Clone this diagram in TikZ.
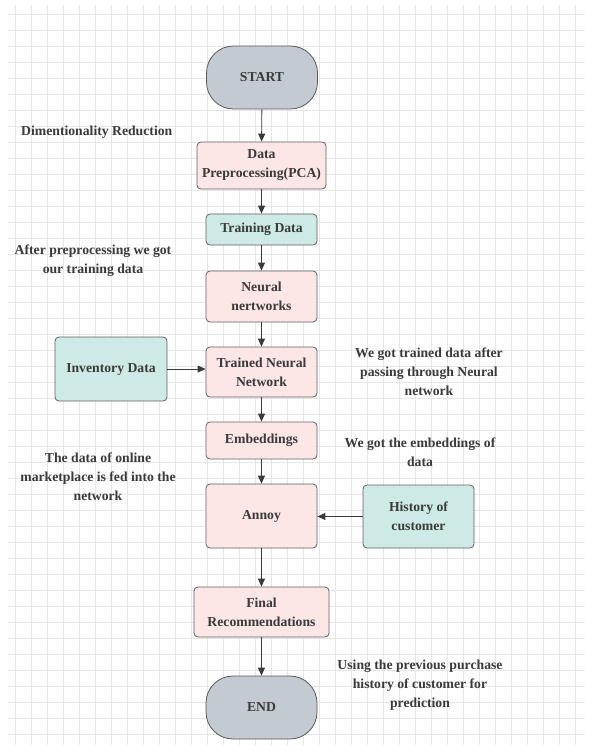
\documentclass[tikz,border=0pt]{standalone}
\usepackage{fontspec}
\setmainfont{Liberation Serif}
\usepackage{tikz}
\usetikzlibrary{arrows.meta}
\definecolor{boxpink}{HTML}{FCE6E6}
\definecolor{boxteal}{HTML}{CDEAE6}
\definecolor{boxgrey}{HTML}{C3CAD2}
\definecolor{inkgrey}{HTML}{3A3A3A}
\definecolor{gridgrey}{HTML}{E6E6E6}

\begin{document}
\begin{tikzpicture}[x=1pt, y=-1pt, font=\fontsize{13.7}{19}\selectfont\bfseries,
    every node/.style={text=inkgrey, align=center, inner sep=0pt},
    pinkbox/.style={draw=black!62, line width=0.8pt, fill=boxpink, rounded corners=4pt},
    tealbox/.style={draw=black!62, line width=0.8pt, fill=boxteal, rounded corners=4pt},
    termbox/.style={draw=black!65, line width=0.8pt, fill=boxgrey, rounded corners=27pt, minimum width=111pt, minimum height=63pt},
    flow/.style={draw=inkgrey, line width=0.9pt, -{Triangle[length=8pt,width=7pt]}}]
    % page and grid
    \fill[white] (0,0) rectangle (595,751);
    \useasboundingbox (0,0) rectangle (595,751);
    \foreach \x in {15.5,31.5,...,585} \draw[gridgrey, line width=0.6pt] (\x,5) -- (\x,745);
    \foreach \y in {14,30,...,745} \draw[gridgrey, line width=0.6pt] (8,\y) -- (585,\y);
    % flow boxes
    \node[termbox] (start) at (262, 77.5) {START};
    \node[pinkbox, minimum width=129pt, minimum height=47pt] (pca) at (261.5, 165.5) {Data\\Preprocessing(PCA)};
    \node[tealbox, minimum width=111pt, minimum height=31pt] (train) at (261.5, 229.5) {Training Data};
    \node[pinkbox, minimum width=111pt, minimum height=51pt] (nn) at (261.5, 296.5) {Neural\\nertworks};
    \node[pinkbox, minimum width=111pt, minimum height=50pt] (tnn) at (261.5, 372) {Trained Neural\\Network};
    \node[tealbox, minimum width=112pt, minimum height=64pt] (inv) at (111, 369) {Inventory Data};
    \node[pinkbox, minimum width=111pt, minimum height=37pt] (emb) at (261.5, 440.5) {Embeddings};
    \node[pinkbox, minimum width=111pt, minimum height=64pt] (annoy) at (261.5, 516) {Annoy};
    \node[tealbox, minimum width=111pt, minimum height=63pt] (hist) at (418.5, 516.5) {History of\\customer};
    \node[pinkbox, minimum width=135pt, minimum height=50pt] (final) at (261.5, 612) {Final\\Recommendations};
    \node[termbox] (end) at (261.5, 707.5) {END};
    % notes
    \node[anchor=west] (dimred) at (21, 132) {Dimentionality Reduction};
    \node (aftertxt) at (93, 261) {After preprocessing we got\\our training data};
    \node (trainedtxt) at (429, 372) {We got trained data after\\passing through Neural\\network};
    \node (embtxt) at (420, 452.5) {We got the embeddings of\\data};
    \node (markettxt) at (98, 477) {The data of online\\marketplace is fed into the\\network};
    \node (usingtxt) at (420, 685) {Using the previous purchase\\history of customer for\\prediction};
    % connectors
    \draw[flow] (start) -- (pca);
    \draw[flow] (pca) -- (train);
    \draw[flow] (train) -- (nn);
    \draw[flow] (nn) -- (tnn);
    \draw[flow] (tnn) -- (emb);
    \draw[flow] (emb) -- (annoy);
    \draw[flow] (annoy) -- (final);
    \draw[flow] (final) -- (end);
    \draw[flow] (inv) -- (inv -| tnn.west);
    \draw[flow] (hist) -- (hist -| annoy.east);
\end{tikzpicture}
\end{document}
